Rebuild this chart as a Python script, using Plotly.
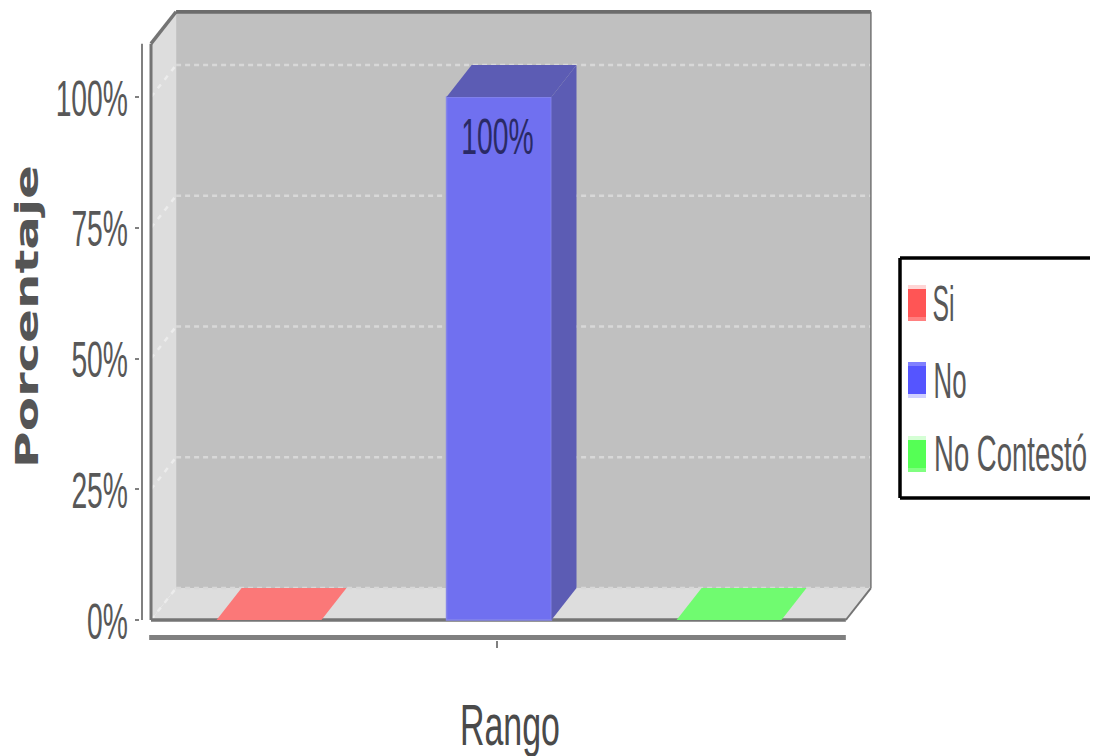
import json
import plotly.graph_objects as go

# ---- data ----
series_names = ["Si", "No", "No Contestó"]
series_values = [0, 100, 0]
series_colors = ["#fb7878", "#7070f0", "#70fb70"]
top_colors = ["#fb7878", "#5c5cb4", "#70fb70"]
legend_colors = ["#ff5555", "#5555ff", "#55ff55"]
legend_top = ["#ffd5d5", "#8080ff", "#d5ffd5"]
legend_bottom = ["#ff8080", "#d0d0ff", "#80ff80"]
y_ticks = [0, 25, 50, 75, 100]
y_labels = ["0%", "25%", "50%", "75%", "100%"]
category_tick = [0.99]
x_title = "Rango"
y_title = "Porcentaje"
bar_label = "100%"

# ---- style / layout constants ----
W, H = 1095, 756
PL, PR, PT, PB = 140, 872, 10, 640
UNIT_X, UNIT_Y = 230.0, 5.23
DX, DY = 0.109, 6.1        # 3-D depth in axis units
BW = 0.456                 # bar width
X0, X1 = (PL - 269) / UNIT_X, (PR - 269) / UNIT_X
Y0, Y1 = (620 - PB) / UNIT_Y, (620 - PT) / UNIT_Y
XL, XR = -0.513, 2.508     # front wall left / right
YTOP = 110.2               # front wall top
TXT = "#585858"
SANS = "Liberation Sans, Arial, sans-serif"
BASE = 20

def px(x): return (x - PL) / (PR - PL)
def py(y): return (PB - y) / (PB - PT)
def path(pts): return "M" + " L".join(f"{a},{b}" for a, b in pts) + " Z"

shapes = []
def poly(pts, fill):
    shapes.append(dict(type="path", path=path(pts), fillcolor=fill, layer="below",
                       line=dict(color=fill, width=0)))
def seg(a, b, color, width, dash="solid"):
    shapes.append(dict(type="line", x0=a[0], y0=a[1], x1=b[0], y1=b[1], layer="below",
                       line=dict(color=color, width=width, dash=dash)))

# walls
poly([(XL + DX, DY), (XR + DX, DY), (XR + DX, YTOP + DY), (XL + DX, YTOP + DY)], "#c0c0c0")
poly([(XL, 0), (XL + DX, DY), (XL + DX, YTOP + DY), (XL, YTOP)], "#dddddd")
poly([(XL, 0), (XL + DX, DY), (XR + DX, DY), (XR, 0)], "#dddddd")
# gridlines on wall
for v in y_ticks:
    seg((XL + DX, v + DY), (XR + DX, v + DY), "#d8d8d8", 2.5, "5px,4px")
    seg((XL, v), (XL + DX, v + DY), "#ececec", 2.5, "5px,6px")
# outline
OUT = "#747474"
seg((XL, 0), (XL, YTOP), OUT, 3)
seg((XL, YTOP), (XL + DX, YTOP + DY), OUT, 3.5)
seg((XL + DX, YTOP + DY), (XR + DX, YTOP + DY), "#6c6c6c", 4)
seg((XR + DX, YTOP + DY), (XR + DX, DY), OUT, 1.5)
seg((XR + DX, DY), (XR, 0), OUT, 2)
seg((XL, 0), (XR, 0), OUT, 3.5)
# value axis line & category axis line
seg((X0 + 2 / UNIT_X, 0), (X0 + 2 / UNIT_X, YTOP), "#808080", 2)
seg((XL - 0.008, -3.35), (XR, -3.35), "#808080", 5)

fig = go.Figure()
for i, (name, val) in enumerate(zip(series_names, series_values)):
    fig.add_trace(go.Bar(x=[i], y=[val], width=BW, name=name,
                         marker=dict(color=series_colors[i],
                                     line=dict(color="#8585ea", width=1.5 if val > 0 else 0)),
                         showlegend=False, hoverinfo="skip"))
    l, r = i - BW / 2, i + BW / 2
    fig.add_trace(go.Scatter(x=[l, l + DX, r + DX, r, l], y=[val, val + DY, val + DY, val, val],
                             mode="lines", fill="toself", fillcolor=top_colors[i],
                             line=dict(width=0), showlegend=False, hoverinfo="skip"))
    if val > 0:
        fig.add_trace(go.Scatter(x=[r, r + DX, r + DX, r, r], y=[0, DY, val + DY, val, 0],
                                 mode="lines", fill="toself", fillcolor=top_colors[i],
                                 line=dict(width=0), showlegend=False, hoverinfo="skip"))

annotations = [
    dict(x=1, y=100, xref="x", yref="y", xshift=-2, yshift=-40, text=bar_label, showarrow=False,
         font=dict(family=SANS, size=BASE, color="#2a2a66")),
    dict(x=px(510), y=py(725), xref="paper", yref="paper", text=x_title, showarrow=False,
         font=dict(family=SANS, size=BASE, color="#4a4a4a")),
    dict(x=px(27), y=py(316), xref="paper", yref="paper", text=f"<b>{y_title}</b>", showarrow=False,
         textangle=-90, font=dict(family="DejaVu Sans", size=BASE, color="#555555")),
]

# legend box, swatches, labels
LX0, LX1, LY0, LY1 = 900, 1090, 258, 498
for a, b in [((LX0, LY0), (LX1, LY0)), ((LX0, LY0), (LX0, LY1)), ((LX0, LY1), (LX1, LY1))]:
    shapes.append(dict(type="line", xref="paper", yref="paper", x0=px(a[0]), y0=py(a[1]),
                       x1=px(b[0]), y1=py(b[1]), line=dict(color="black", width=3.5)))
legend_y = [303, 380, 454]
for i, (name, yc) in enumerate(zip(series_names, legend_y)):
    for top, bot, col in [(yc - 18, yc + 18, legend_colors[i]), (yc - 18, yc - 14, legend_top[i]),
                          (yc + 14, yc + 18, legend_bottom[i])]:
        shapes.append(dict(type="rect", xref="paper", yref="paper", x0=px(908), x1=px(926),
                           y0=py(top), y1=py(bot), fillcolor=col, line=dict(width=0)))
    annotations.append(dict(x=px(934), y=py(yc), xref="paper", yref="paper", text=name,
                            xanchor="left", showarrow=False,
                            font=dict(family=SANS, size=BASE, color=TXT)))

fig.update_layout(
    width=W, height=H, autosize=False, showlegend=False,
    margin=dict(l=PL, r=W - PR, t=PT, b=H - PB, pad=0),
    paper_bgcolor="white", plot_bgcolor="white",
    barmode="overlay", shapes=shapes, annotations=annotations,
    font=dict(family=SANS),
    xaxis=dict(range=[X0, X1], showgrid=False, zeroline=False, showline=False,
               tickmode="array", tickvals=category_tick, ticktext=[""], ticks="outside",
               ticklen=7, tickcolor="#808080", tickwidth=1.5),
    yaxis=dict(range=[Y0, Y1], showgrid=False, zeroline=False, showline=False,
               tickmode="array", tickvals=y_ticks, ticktext=y_labels, ticks="outside",
               ticklen=4, tickcolor="#808080", tickwidth=2,
               tickfont=dict(family=SANS, size=BASE, color=TXT)),
)

# The reference text is squeezed sideways and stretched tall; reproduce that on the real text.
SX, SY = 28.3 / BASE, 50 / BASE
text_fit = {  # text: [target centre x, centre y, target width, vertical scale]
    x_title: [510, 725, 100, 58 / BASE],
    y_title: [27, 316.5, 303, 32 / BASE],
    series_names[0]: [943.5, legend_y[0], 22, SY],
    series_names[1]: [950, legend_y[1], 33, SY],
    series_names[2]: [1010.5, legend_y[2], 153, SY],
}
post = """
var gd = document.getElementById('{plot_id}');
document.body.style.margin = '0';
var FIT = %s, SX = %f, SY = %f, BAR = %s;
function addT(el, t) { el.setAttribute('transform', (el.getAttribute('transform') || '') + ' ' + t); }
function scale(el, sx, sy, ox, oy) {
  addT(el, 'translate(' + ox + ',' + oy + ') scale(' + sx + ',' + sy + ') translate(' + (-ox) + ',' + (-oy) + ')');
}
gd.querySelectorAll('.ytick text').forEach(function (el) {
  var b = el.getBBox();
  scale(el, SX, SY, b.x + b.width, b.y + b.height / 2);
  var r = el.getBoundingClientRect();
  addT(el, 'translate(' + (128 - r.right) / SX + ',' + (1 / SY) + ')');
});
gd.querySelectorAll('.annotation-text').forEach(function (el) {
  var txt = el.textContent, b = el.getBBox();
  if (txt === BAR) { scale(el, SX, SY, b.x + b.width / 2, b.y + b.height / 2); return; }
  var f = FIT[txt];
  if (!f) return;
  scale(el, f[2] / b.width, f[3], b.x + b.width / 2, b.y + b.height / 2);
  var r = el.getBoundingClientRect(), m = el.getScreenCTM();
  var dx = f[0] - (r.left + r.width / 2), dy = f[1] - (r.top + r.height / 2);
  var det = m.a * m.d - m.b * m.c;
  addT(el, 'translate(' + (m.d * dx - m.c * dy) / det + ',' + (-m.b * dx + m.a * dy) / det + ')');
});
""" % (json.dumps(text_fit), SX, SY, json.dumps(bar_label))

fig.write_html("out.html", config=dict(displayModeBar=False), post_script=post)
